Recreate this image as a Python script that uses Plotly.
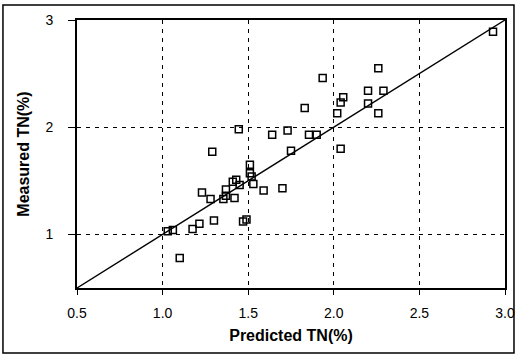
import plotly.graph_objects as go

predicted = [1.03, 1.06, 1.10, 1.175, 1.215, 1.30, 1.47, 1.49, 1.23, 1.28,
             1.355, 1.37, 1.37, 1.41, 1.43, 1.42, 1.45, 1.51, 1.52, 1.53,
             1.59, 1.70, 1.51, 1.29, 1.445, 1.64, 1.73, 1.75, 1.83, 1.855,
             1.90, 1.935, 2.02, 2.04, 2.055, 2.04, 2.20, 2.20, 2.26, 2.26,
             2.29, 2.93]
measured = [1.03, 1.04, 0.78, 1.05, 1.10, 1.13, 1.12, 1.14, 1.39, 1.33,
            1.33, 1.36, 1.42, 1.49, 1.51, 1.34, 1.46, 1.57, 1.54, 1.47,
            1.41, 1.43, 1.65, 1.77, 1.98, 1.93, 1.97, 1.78, 2.18, 1.93,
            1.93, 2.46, 2.13, 2.23, 2.28, 1.80, 2.22, 2.34, 2.13, 2.55,
            2.34, 2.89]
line_x = [0.5, 3.0]
line_y = [0.5, 3.0]
x_ticks = [0.5, 1.0, 1.5, 2.0, 2.5, 3.0]
x_tick_labels = ["0.5", "1.0", "1.5", "2.0", "2.5", "3.0"]
y_ticks = [1, 2, 3]
y_tick_labels = ["1", "2", "3"]

fig = go.Figure()
fig.add_trace(go.Scatter(x=line_x, y=line_y, mode="lines",
                         line=dict(color="black", width=1.4), showlegend=False))
fig.add_trace(go.Scatter(x=predicted, y=measured, mode="markers",
                         marker=dict(symbol="square-open", size=7, color="black",
                                     line=dict(width=1.5, color="black")),
                         showlegend=False))

font = "Liberation Sans, Arial, sans-serif"
fig.update_layout(
    width=517, height=356,
    margin=dict(l=77, r=12, t=20, b=68, autoexpand=False),
    paper_bgcolor="white", plot_bgcolor="white",
    font=dict(family=font, color="black", size=14),
    xaxis=dict(range=[0.5, 3.0], tickvals=x_ticks, ticktext=x_tick_labels,
               automargin=False,
               showline=True, linecolor="black", linewidth=2, mirror=True,
               ticks="outside", ticklen=5, tickcolor="black", tickwidth=1.2,
               ticklabelstandoff=6,
               showgrid=True, gridcolor="black", griddash="4px,5px", gridwidth=1.2,
               zeroline=False, tickfont=dict(size=14),
               title=dict(text="<b>Predicted TN(%)</b>", font=dict(size=16), standoff=10)),
    yaxis=dict(range=[0.5, 3.0], tickvals=y_ticks, ticktext=y_tick_labels,
               automargin=False,
               showline=True, linecolor="black", linewidth=2, mirror=True,
               ticks="outside", ticklen=7, tickcolor="black", tickwidth=1.2,
               ticklabelstandoff=12,
               showgrid=True, gridcolor="black", griddash="4px,5px", gridwidth=1.2,
               zeroline=False, tickfont=dict(size=14),
               title=dict(text="<b>Measured TN(%)</b>", font=dict(size=16), standoff=12)),
    shapes=[dict(type="rect", xref="paper", yref="paper", layer="above",
                 x0=-0.173, x1=1.021, y0=-0.2425, y1=1.056,
                 line=dict(color="black", width=1.5))],
)

fig.write_html("out.html", config={"displayModeBar": False},
               post_script="document.body.style.margin='0';document.body.style.overflow='hidden';")
